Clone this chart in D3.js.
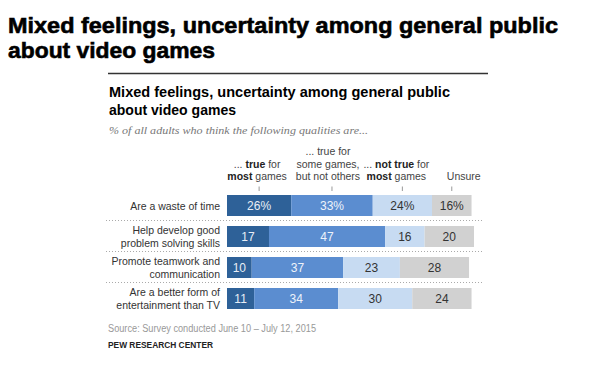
<!DOCTYPE html>
<html>
<head>
<meta charset="utf-8">
<script src="https://cdn.jsdelivr.net/npm/d3@7"></script>
<style>
  html, body { margin: 0; padding: 0; background: #fff; }
  svg { display: block; font-family: "Liberation Sans", Arial, sans-serif; }
</style>
</head>
<body>
<svg id="chart" width="600" height="383"></svg>
<script>
// ---- data ----
const categories = [
  ["Are a waste of time"],
  ["Help develop good", "problem solving skills"],
  ["Promote teamwork and", "communication"],
  ["Are a better form of", "entertainment than TV"]
];
const trueMost    = [26, 17, 10, 11];
const trueSome    = [33, 47, 37, 34];
const notTrueMost = [24, 16, 23, 30];
const unsure      = [16, 20, 28, 24];
const seriesHeaders = [
  [[["... ", false], ["true", true], [" for", false]], [["most", true], [" games", false]]],
  [[["... true for", false]], [["some games,", false]], [["but not others", false]]],
  [[["... ", false], ["not true", true], [" for", false]], [["most", true], [" games", false]]],
  [[["Unsure", false]]]
];
const titleLines = ["Mixed feelings, uncertainty among general public", "about video games"];
const subtitle = "% of all adults who think the following qualities are...";
const source = "Source: Survey conducted June 10 \u2013 July 12, 2015";
const credit = "PEW RESEARCH CENTER";

// ---- styles / layout ----
const colors = ["#2e6198", "#5b8dd0", "#c7dbf2", "#d1d1d1"];
const textColors = ["#e8eef6", "#eef3fa", "#333333", "#333333"];
const headerNudge = [-2, -4, -6, 12];

// ---- build ----
const svg = d3.select("#chart");
const seriesValues = [trueMost, trueSome, notTrueMost, unsure];
const rows = categories.map((c, i) => {
  const vals = seriesValues.map(s => s[i]);
  let acc = 0;
  const segs = vals.map((v, k) => { const s = {k, v, x0: acc, x1: acc + v, row: i}; acc += v; return s; });
  return {label: c, segs, i};
});

const x = d3.scaleLinear().domain([0, 100]).range([227, 474]);
const y = d3.scaleBand().domain(d3.range(categories.length)).range([195, 309]).paddingInner(10 / 31).paddingOuter(0);

// Outer big title
[[titleLines[0], 33, 550], [titleLines[1], 58, 207]].forEach(([t, by, w]) => {
  svg.append("text")
    .attr("x", 8).attr("y", by)
    .attr("font-size", 22.5).attr("font-weight", 900)
    .attr("fill", "#000")
    .attr("stroke", "#000").attr("stroke-width", 0.6)
    .attr("textLength", w).attr("lengthAdjust", "spacingAndGlyphs")
    .text(t);
});

// rule
svg.append("line").attr("x1", 108).attr("x2", 488).attr("y1", 73.5).attr("y2", 73.5)
  .attr("stroke", "#333").attr("stroke-width", 1.5);

// chart title
[[titleLines[0], 97, 341], [titleLines[1], 115, 127]].forEach(([t, by, w]) => {
  svg.append("text")
    .attr("x", 109).attr("y", by)
    .attr("font-size", 15).attr("font-weight", "bold")
    .attr("fill", "#000")
    .attr("textLength", w).attr("lengthAdjust", "spacingAndGlyphs")
    .text(t);
});

svg.append("text").attr("x", 109).attr("y", 134)
  .attr("font-size", 11).attr("font-style", "italic")
  .attr("font-family", "'Liberation Serif', serif")
  .attr("fill", "#777")
  .attr("textLength", 259).attr("lengthAdjust", "spacingAndGlyphs")
  .text(subtitle);

// column headers (over first-row segments)
const firstRow = rows[0];
const hdr = svg.append("g").attr("font-size", 10.5).attr("fill", "#333");
firstRow.segs.forEach((s, k) => {
  const cx = (x(s.x0) + x(s.x1)) / 2;
  const tx = cx + headerNudge[k];
  const lines = seriesHeaders[k];
  const lh = 12.5;
  lines.forEach((ln, li) => {
    const by = 180 - (lines.length - 1 - li) * lh;
    const t = hdr.append("text").attr("x", tx).attr("y", by).attr("text-anchor", "middle");
    ln.forEach(([str, b]) => {
      t.append("tspan").attr("font-weight", b ? "bold" : "normal").attr("fill", b ? "#222" : "#444").text(str);
    });
  });
  hdr.append("line").attr("x1", cx).attr("x2", cx).attr("y1", 186.5).attr("y2", 191)
    .attr("stroke", "#999").attr("stroke-width", 1);
});

// separators
for (let i = 0; i < categories.length - 1; i++) {
  const sy = y(i) + y.bandwidth() + 4.5;
  svg.append("line").attr("x1", 106).attr("x2", 483).attr("y1", sy).attr("y2", sy)
    .attr("stroke", "#aaa").attr("stroke-width", 1).attr("stroke-dasharray", "1,2");
}

// bars
const rowG = svg.selectAll("g.row").data(rows).join("g").attr("class", "row");
rowG.selectAll("rect").data(d => d.segs).join("rect")
  .attr("x", d => x(d.x0)).attr("width", d => x(d.x1) - x(d.x0))
  .attr("y", d => y(d.row)).attr("height", y.bandwidth())
  .attr("fill", d => colors[d.k]);
rowG.selectAll("text.val").data(d => d.segs).join("text").attr("class", "val")
  .attr("x", d => (x(d.x0) + x(d.x1)) / 2)
  .attr("y", d => y(d.row) + y.bandwidth() / 2 + 4.5)
  .attr("text-anchor", "middle").attr("font-size", 12)
  .attr("fill", d => textColors[d.k])
  .text(d => d.row === 0 ? d.v + "%" : d.v);

// row labels
rowG.each(function(d) {
  const g = d3.select(this);
  const cy = y(d.i) + y.bandwidth() / 2;
  const lh = 12.5;
  d.label.forEach((ln, li) => {
    g.append("text")
      .attr("x", 220).attr("y", cy + 4 + (li - (d.label.length - 1) / 2) * lh)
      .attr("text-anchor", "end").attr("font-size", 10.5).attr("fill", "#333")
      .text(ln);
  });
});

// footer
svg.append("text").attr("x", 108).attr("y", 332).attr("font-size", 10).attr("fill", "#999")
  .attr("textLength", 208).attr("lengthAdjust", "spacingAndGlyphs").text(source);
svg.append("text").attr("x", 108).attr("y", 348).attr("font-size", 9).attr("font-weight", "bold").attr("fill", "#222")
  .attr("textLength", 105).attr("lengthAdjust", "spacingAndGlyphs").text(credit);
</script>
</body>
</html>
